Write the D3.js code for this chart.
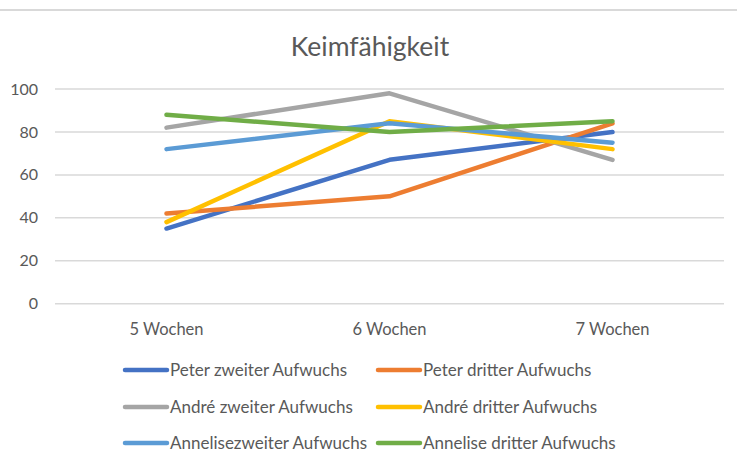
<!DOCTYPE html>
<html>
<head>
<meta charset="utf-8">
<script src="https://cdn.jsdelivr.net/npm/d3@7"></script>
<style>
  body { margin: 0; background: #fff; }
  text { font-family: Lato, "Noto Sans", sans-serif; fill: #595959; }
</style>
</head>
<body>
<div id="chart"></div>
<script>
// categories + series
const weeks = ["5 Wochen", "6 Wochen", "7 Wochen"];
const seriesNames = [
    "Peter zweiter Aufwuchs", "Peter dritter Aufwuchs",
    "André zweiter Aufwuchs", "André dritter Aufwuchs",
    "Annelisezweiter Aufwuchs", "Annelise dritter Aufwuchs"
];
const peter2 = [35, 67, 80];
const peter3 = [42, 50, 84];
const andre2 = [82, 98, 67];
const andre3 = [38, 85, 72];
const annelise2 = [72, 84, 75];
const annelise3 = [88, 80, 85];
const yTicks = [0, 20, 40, 60, 80, 100];
const colors = ["#4472C4", "#ED7D31", "#A5A5A5", "#FFC000", "#5B9BD5", "#70AD47"];

const series = [peter2, peter3, andre2, andre3, annelise2, annelise3]
    .map((vals, i) => ({ name: seriesNames[i], values: vals }));

const W = 737, H = 464;
const svg = d3.select("#chart").append("svg")
    .attr("width", W)
    .attr("height", H);

// chart frame line at top
svg.append("line")
    .attr("x1", 0).attr("x2", W)
    .attr("y1", 10).attr("y2", 10)
    .style("stroke", "#d9d9d9")
    .style("stroke-width", 2);

svg.append("text")
    .attr("x", 370)
    .attr("y", 56)
    .attr("text-anchor", "middle")
    .style("font-size", "26.5px")
    .text("Keimfähigkeit");

// scales
const x = d3.scalePoint()
    .domain(weeks)
    .range([55, 724])
    .padding(0.5);

const y = d3.scaleLinear()
    .domain([0, 100])
    .range([303.7, 89]);

// gridlines + y labels
svg.append("g")
    .selectAll("line")
    .data(yTicks)
    .enter()
    .append("line")
    .attr("x1", 55).attr("x2", 724)
    .attr("y1", d => y(d)).attr("y2", d => y(d))
    .style("stroke", "#d9d9d9")
    .style("stroke-width", 1.5);

svg.append("g")
    .selectAll("text")
    .data(yTicks)
    .enter()
    .append("text")
    .attr("x", 38)
    .attr("y", d => y(d))
    .attr("dy", "0.35em")
    .attr("text-anchor", "end")
    .style("font-size", "16px")
    .text(d => d);

// x labels
svg.append("g")
    .selectAll("text")
    .data(weeks)
    .enter()
    .append("text")
    .attr("x", d => x(d))
    .attr("y", 329)
    .attr("dy", "0.35em")
    .attr("text-anchor", "middle")
    .style("font-size", "16.5px")
    .text(d => d);

// lines
const line = d3.line()
    .x((d, i) => x(weeks[i]))
    .y(d => y(d));

svg.append("g")
    .selectAll("path")
    .data(series)
    .enter()
    .append("path")
    .attr("d", d => line(d.values))
    .style("fill", "none")
    .style("stroke", (d, i) => colors[i])
    .style("stroke-width", 4.5)
    .style("stroke-linecap", "round")
    .style("stroke-linejoin", "round");

// legend, 2 columns x 3 rows
const legendX = [125, 378];
const legendY = [370, 407, 443];
const legend = svg.append("g")
    .selectAll("g")
    .data(series)
    .enter()
    .append("g")
    .attr("transform", (d, i) => `translate(${legendX[i % 2]}, ${legendY[Math.floor(i / 2)]})`);

legend.append("line")
    .attr("x1", 0).attr("x2", 42)
    .style("stroke", (d, i) => colors[i])
    .style("stroke-width", 4.5)
    .style("stroke-linecap", "round");

legend.append("text")
    .attr("x", 45)
    .attr("dy", "0.35em")
    .style("font-size", "17px")
    .text(d => d.name);
</script>
</body>
</html>
